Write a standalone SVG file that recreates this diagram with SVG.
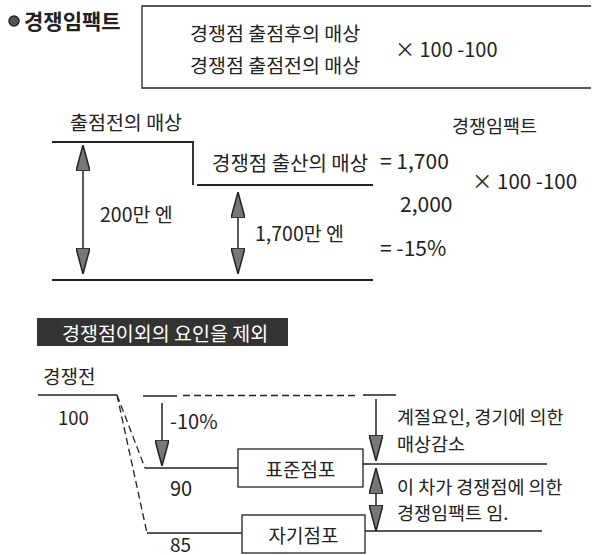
<svg xmlns="http://www.w3.org/2000/svg" width="592" height="555" viewBox="0 0 592 555">
<defs>
<marker id="ah" markerUnits="userSpaceOnUse" markerWidth="26" markerHeight="14" refX="25" refY="7" orient="auto-start-reverse" viewBox="0 0 26 14">
<path d="M0,0 L26,7 L0,14 Z" fill="#777" stroke="#222" stroke-width="1.5"/>
</marker>
<style>
text{font-family:"Noto Sans CJK KR","Noto Sans",sans-serif;fill:#222;dominant-baseline:central}
.ln{stroke:#222;stroke-width:1.8;fill:none}
.th{stroke:#222;stroke-width:1.3;fill:none}
.ds{stroke:#222;stroke-width:1.3;fill:none;stroke-dasharray:7,4}
.ar{stroke:#222;stroke-width:1.5;fill:none;marker-end:url(#ah)}
.ar2{stroke:#222;stroke-width:1.5;fill:none;marker-end:url(#ah);marker-start:url(#ah)}
.box{fill:#fff;stroke:#222;stroke-width:1.3}
</style>
</defs>
<rect width="592" height="555" fill="#fff"/>

<g id="title">
<circle cx="14" cy="21" r="5" fill="#555" stroke="#222" stroke-width="1.5"/>
<text x="24" y="20" font-size="21" font-weight="bold">경쟁임팩트</text>
</g>

<g id="formula-box">
<path class="th" d="M591,6 H142 V88 H591"/>
<text x="190" y="32" font-size="19.5">경쟁점 출점후의 매상</text>
<text x="190" y="64" font-size="19.5">경쟁점 출점전의 매상</text>
<text x="395" y="48" font-size="20">× 100 -100</text>
</g>

<g id="connectors">
<path class="ln" d="M52,142 H193 V185 M197,185 H373"/>
<path class="ln" d="M52,280 H373"/>
<line class="ar2" x1="83" y1="146" x2="83" y2="273"/>
<line class="ar2" x1="238" y1="193" x2="238" y2="273"/>

<path class="th" d="M38,395 H117"/>
<path class="ds" d="M117,395 L145,468 M117,395 L147,533"/>
<path class="th" d="M145,468 H238 M363,464 H547"/>
<path class="th" d="M147,533 H242 M365,531 H542"/>
<path class="th" d="M143,396 H177 M363,395 H396"/>
<path class="ds" d="M183,395.5 H357"/>
<line class="ar" x1="162" y1="403" x2="162" y2="465"/>
<line class="ar" x1="376" y1="399" x2="376" y2="460"/>
<line class="ar2" x1="376" y1="469" x2="376" y2="530"/>
</g>

<g id="before-sales">
<text x="70" y="121" font-size="19.5">출점전의 매상</text>
<text x="100" y="213" font-size="19.5">200만 엔</text>
</g>

<g id="after-sales">
<text x="212" y="162" font-size="20">경쟁점 출산의 매상</text>
<text x="255" y="232" font-size="19.5">1,700만 엔</text>
</g>

<g id="impact-calc">
<text x="452" y="125" font-size="18.5">경쟁임팩트</text>
<text x="380" y="160" font-size="21">= 1,700</text>
<text x="400" y="203" font-size="21">2,000</text>
<text x="472" y="180" font-size="20.5">× 100 -100</text>
<text x="380" y="247" font-size="21">= -15%</text>
</g>

<g id="banner">
<rect x="37" y="318" width="251" height="28" fill="#333"/>
<text x="62" y="332" font-size="19.5" style="fill:#fff">경쟁점이외의 요인을 제외</text>
</g>

<g id="before-competition">
<text x="43" y="375" font-size="19">경쟁전</text>
<text x="58" y="417" font-size="18.5">100</text>
</g>

<g id="minus10">
<text x="170" y="420" font-size="20">-10%</text>
</g>

<g id="standard-store">
<rect class="box" x="238" y="449" width="125" height="38"/>
<text x="300.5" y="468" font-size="19" text-anchor="middle">표준점포</text>
<text x="170" y="487" font-size="20">90</text>
</g>

<g id="own-store">
<rect class="box" x="242" y="515" width="123" height="38"/>
<text x="303.5" y="534" font-size="19" text-anchor="middle">자기점포</text>
<text x="170" y="543" font-size="19">85</text>
</g>

<g id="season-note">
<text x="397" y="416" font-size="18.5">계절요인, 경기에 의한</text>
<text x="397" y="443" font-size="18.5">매상감소</text>
</g>

<g id="impact-note">
<text x="397" y="486" font-size="18.5">이 차가 경쟁점에 의한</text>
<text x="397" y="512" font-size="18.5">경쟁임팩트 임.</text>
</g>
</svg>
